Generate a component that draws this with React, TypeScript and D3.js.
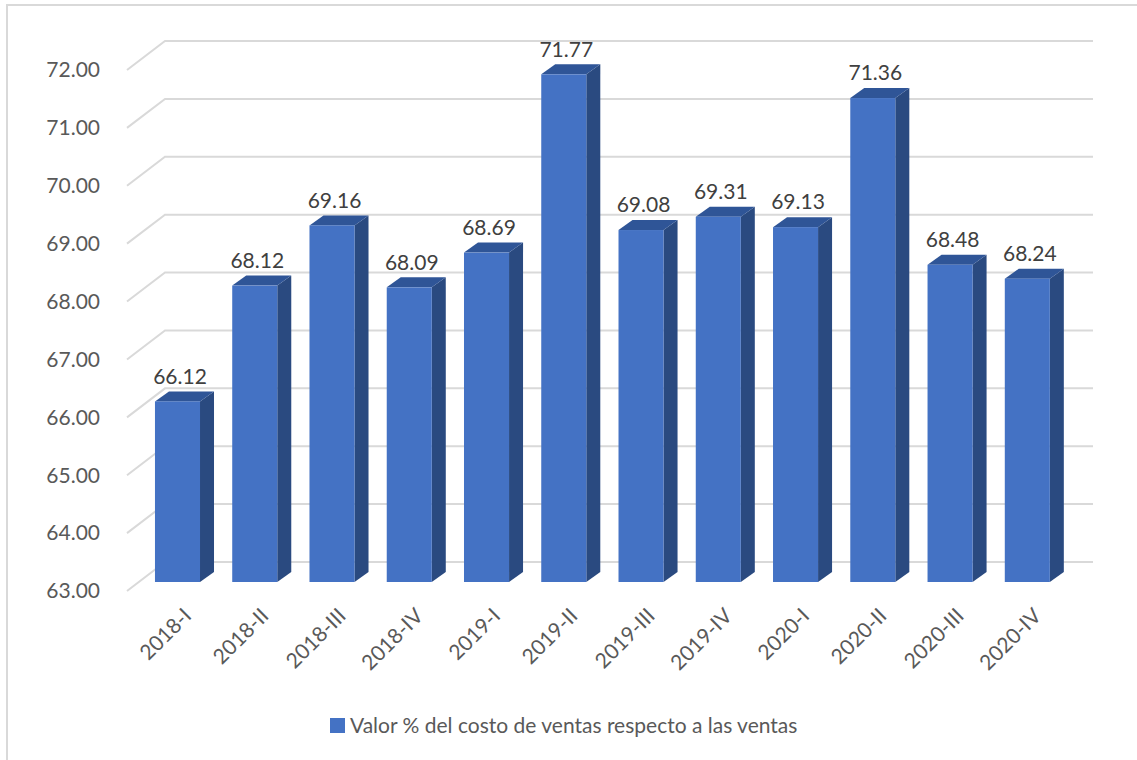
import { scaleBand, scaleLinear, range } from "d3";

const categories = [
  "2018-I", "2018-II", "2018-III", "2018-IV",
  "2019-I", "2019-II", "2019-III", "2019-IV",
  "2020-I", "2020-II", "2020-III", "2020-IV",
];
const values = [66.12, 68.12, 69.16, 68.09, 68.69, 71.77, 69.08, 69.31, 69.13, 71.36, 68.48, 68.24];
const yTicks = range(63, 73);
const legendLabel = "Valor % del costo de ventas respecto a las ventas";

const WIDTH = 1137;
const HEIGHT = 760;
const FONT = "Lato, 'Noto Sans', sans-serif";
const TEXT = "#595959";
const GRID = "#d9d9d9";
const FRONT = "#4472c4";
const SIDE = "#2a4a80";
const TOP = "#2f5597";

// 3d offset of a bar, and of the back wall, from the front plane
const DEPTH = { x: 14, y: -10 };
const WALL = { left: 127, right: 165, end: 1093, front: 9, back: -20 };

const App = () => {
  const x = scaleBand<string>()
    .domain(categories)
    .range([138.9, 1065.9])
    .paddingInner(0.417)
    .paddingOuter(0.208);
  const y = scaleLinear().domain([63, 72]).range([582, 61]);
  const bw = x.bandwidth();

  return (
    <svg
      width={WIDTH}
      height={HEIGHT}
      style={{ position: "absolute", left: 0, top: 0, background: "#fff" }}
    >
      <path d="M7,760 V5 H1137" fill="none" stroke={GRID} strokeWidth={2} />

      {yTicks.map((t) => (
        <g key={t}>
          <polyline
            points={`${WALL.left},${y(t) + WALL.front} ${WALL.right},${y(t) + WALL.back} ${WALL.end},${y(t) + WALL.back}`}
            fill="none"
            stroke={GRID}
            strokeWidth={2}
          />
          <text
            x={100}
            y={y(t) + WALL.front}
            dy="0.35em"
            textAnchor="end"
            fontFamily={FONT}
            fontSize={21}
            fill={TEXT}
          >
            {t.toFixed(2)}
          </text>
        </g>
      ))}

      {categories.map((c, i) => {
        const x0 = x(c) as number;
        const top = y(values[i]);
        const base = y(63);
        return (
          <g key={c}>
            <path
              d={`M${x0 + bw},${top} l${DEPTH.x},${DEPTH.y} V${base + DEPTH.y} L${x0 + bw},${base} Z`}
              fill={SIDE}
            />
            <path
              d={`M${x0},${top} l${DEPTH.x},${DEPTH.y} h${bw} l${-DEPTH.x},${-DEPTH.y} Z`}
              fill={TOP}
            />
            <rect x={x0} y={top} width={bw} height={base - top} fill={FRONT} />
            <text
              x={x0 + bw / 2 + 2.5}
              y={top - 25}
              dy="0.35em"
              textAnchor="middle"
              fontFamily={FONT}
              fontSize={21}
              fill="#404040"
            >
              {values[i].toFixed(2)}
            </text>
            <text
              transform={`translate(${x0 + bw / 2 + 10},${612}) rotate(-45)`}
              dy="0.35em"
              textAnchor="end"
              fontFamily={FONT}
              fontSize={21}
              fill={TEXT}
            >
              {c}
            </text>
          </g>
        );
      })}

      <rect x={330} y={718} width={15} height={15} fill={FRONT} />
      <text
        x={350}
        y={726}
        dy="0.35em"
        fontFamily={FONT}
        fontSize={21}
        fill={TEXT}
      >
        {legendLabel}
      </text>
    </svg>
  );
};

export default App;
